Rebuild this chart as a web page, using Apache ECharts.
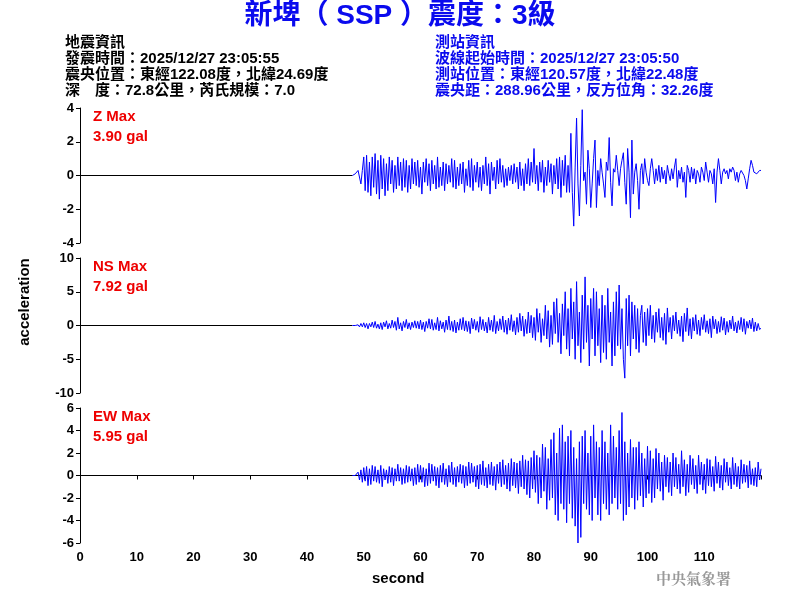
<!DOCTYPE html>
<html><head><meta charset="utf-8">
<script src="https://cdn.jsdelivr.net/npm/echarts@6/dist/echarts.min.js"></script>
<style>html,body{margin:0;padding:0;background:#fff}#c{width:800px;height:600px}</style>
</head><body><div id="c"></div>
<script>
const startTime = 48, step = 0.25;
const zValues = [
0,0,0.1,0.2, 0.3,0.2,-0.5,0.3, 1.1,-0.9,1.2,-1.0, 0.8,-1.2,1.1,-0.7, 1.3,-1.1,0.9,-1.4, 1.2,-0.8,1.0,-1.2,
0.7,-0.9,1.1,-0.5, 0.9,-1.0,0.6,-0.8, 1.1,-0.6,0.8,-0.9, 1.0,-0.7,0.9,-1.0, 0.6,-0.8,1.0,-0.5, 0.8,-0.6,0.9,-0.7,
0.5,-1.1,0.8,-0.4, 1.0,-0.6,0.7,-0.9, 0.9,-0.5,0.6,-0.8, 1.1,-0.7,0.5,-0.6, 0.8,-0.9,0.7,-0.5, 0.6,-0.4,1.0,-0.7,
0.9,-0.8,0.5,-0.6, 0.7,-0.5,0.8,-1.0, 0.4,-0.6,0.9,-0.7, 1.0,-0.9,0.6,-0.4, 0.8,-0.7,0.5,-0.9, 0.6,-0.5,1.1,-0.6,
0.7,-1.1,0.8,-0.3, 0.5,-0.8,0.9,-0.5, 1.0,-0.4,0.6,-0.7, 0.4,-0.6,0.5,-0.3, 0.6,-0.5,0.7,-0.4, 0.5,-0.8,0.8,-0.6,
0.4,-0.9,0.7,-0.5, 1.0,-0.6,0.8,-0.4,
1.6,-0.5,0.6,-0.9, 0.8,-0.4,0.9,-1.0, 0.5,-0.6,0.9,-0.4, 0.7,-1.1,0.6,-0.5, 1.0,-0.8,1.1,-1.3, 0.9,-0.6,1.2,-1.0,
0.6,-1.0,2.5,-1.0, -3.0,0.5,3.4,-0.5, -2.4,0.6,3.9,-0.3, 0.2,-1.7,1.5,0.4, -1.9,-0.5,1.0,2.1, -1.9,0.3,-0.6,1.0,
0.2,-0.5,-1.3,0.8, 0.3,2.25,-0.4,-1.8, 0.4,0.2,1.2,0.3, -0.6,0.4,0.9,1.35, -0.4,-1.7,1.6,0.2, -2.5,2.1,-1.1,0.2,
0.7,-0.3,-2.0,0.3, 0.7,-0.5,1.0,0.2, -0.3,-0.6,0.4,1.0, 0.3,-0.5,0.4,-0.3, 0.6,-0.4,0.5,-0.2, 0.3,-0.5,0.6,0.1,
-0.3,0.4,-0.2,0.5, 1.0,-0.7,0.3,-0.2, 0.5,-0.4,0.2,-1.3, 0.6,0.3,-0.4,0.5, -0.2,0.4,-0.5,0.3, 0.1,-0.4,0.5,0.2,
-0.3,0.8,0.2,-0.4, 0.3,0.1,-0.5,0.4, -1.6,0.2,1.0,0.3, -0.5,0.2,0.4,0.1, 0.3,-0.2,0.4,0.2, 0.5,0.3,-0.3,0.2,
-0.4,0.1,0.3,0.2, 0.0,-0.3,-0.8,-0.2, 0.4,0.9,0.6,0.2, 0.3,0.1,0.2,0.3, 0.3];
const nsValues = [
0,0,0,0, 0.1,-0.2,0.3,-0.2, 0.4,-0.3,0.3,-0.5, 0.3,-0.2,0.5,-0.3, 0.6,-0.4,0.2,-0.5, 0.4,-0.6,0.5,-0.2,
0.7,-0.5,0.3,-0.4, 0.8,-0.3,0.6,-0.7, 1.2,-0.5,0.4,-0.8, 0.6,-0.3,0.9,-0.5, 0.4,-0.6,0.5,-0.3, 0.7,-0.4,0.6,-0.5,
0.8,-0.6,0.5,-0.9, 0.6,-0.4,1.0,-0.5, 0.9,-0.7,0.4,-0.6, 1.2,-0.8,0.7,-0.5, 0.5,-1.0,0.8,-0.6, 1.4,-0.7,0.6,-0.9,
0.8,-1.1,0.5,-0.7, 1.0,-0.6,1.2,-0.8, 0.7,-0.9,0.6,-1.2, 1.1,-0.5,0.9,-0.7, 0.6,-1.0,1.3,-0.6, 0.9,-0.8,0.5,-1.1,
1.2,-0.7,0.8,-0.9, 1.5,-1.2,0.6,-0.8, 1.0,-0.6,1.4,-1.0, 0.8,-1.3,1.1,-0.7, 1.6,-0.9,0.7,-1.4, 1.2,-1.0,1.8,-0.8,
1.4,-1.6,0.9,-1.2, 2.0,-1.1,1.5,-1.8, 1.2,-2.2,2.5,-1.0, 1.8,-2.5,1.0,-1.5, 3.0,-2.0,2.2,-3.2, 1.5,-2.8,3.5,-1.2,
4.0,-2.5,1.8,-4.2, 3.2,-1.5,5.0,-3.5, 2.5,-4.5,5.5,-2.0, 3.5,-5.0,6.5,-3.0, 2.0,-5.5,4.5,-3.5, 7.2,-2.5,3.0,-6.0,
4.0,-2.0,5.5,-4.5, 5.0,-3.0,2.5,-5.5, 4.5,-4.0,3.0,-5.0, 5.5,-2.5,2.0,-6.0, 3.5,-4.5,5.0,-3.0, 6.0,-3.5,2.5,-5.0,
-7.8,4.0,-3.0,4.5, -4.5,3.5,-2.0,3.0, -3.5,2.5,-4.0,1.5, 3.0,-2.5,2.0,-3.0, 2.5,-1.5,3.0,-2.0, 1.5,-2.5,2.0,-1.0,
2.5,-1.8,1.2,-2.2, 1.8,-2.8,2.6,-1.0, 1.2,-2.0,1.5,-0.8, 2.0,-1.2,0.8,-1.6, 1.4,-2.4,1.8,-0.9, 2.6,-1.5,1.0,-2.0,
1.2,-0.8,1.6,-1.3, 0.8,-1.5,1.2,-0.6, 1.6,-1.0,0.7,-1.2, 1.0,-1.8,1.4,-0.5, 0.9,-1.2,0.6,-1.0, 1.3,-0.7,1.1,-1.4,
0.6,-1.0,0.8,-0.5, 1.4,-0.8,0.5,-1.1, 0.7,-0.6,1.2,-0.9, 1.0,-1.3,0.6,-0.4, 0.8,-0.5,1.1,-0.9, 0.5,-0.8,0.3,-0.6, -0.4];
const ewValues = [
0,0,0,0.1, 0.3,-0.4,0.5,-0.6, 0.7,-0.5,0.8,-0.9, 0.6,-0.8,0.9,-0.5, 0.8,-0.6,0.5,-0.7, 0.9,-1.0,0.6,-0.4,
0.5,-0.7,0.8,-0.6, 0.7,-0.9,0.6,-0.5, 1.0,-0.5,0.7,-0.8, 0.6,-0.7,0.9,-0.6, 0.8,-0.5,0.6,-0.9, 0.7,-0.8,1.0,-0.6,
0.9,-0.6,0.7,-1.0, 0.6,-0.9,1.1,-0.7, 1.0,-0.5,0.8,-0.9, 0.7,-1.1,0.9,-0.6, 1.1,-0.8,0.6,-1.0, 0.9,-0.6,1.2,-0.8,
0.7,-1.0,0.8,-0.6, 1.0,-0.7,0.9,-1.1, 0.8,-0.9,1.2,-0.7, 1.1,-0.6,0.8,-1.0, 0.9,-1.2,1.0,-0.8, 1.3,-0.9,0.7,-1.1,
1.0,-0.8,1.2,-0.9, 0.8,-1.3,1.0,-0.7, 1.2,-1.0,1.4,-0.8, 0.9,-1.2,1.1,-1.4, 1.5,-0.9,1.2,-1.1, 1.1,-1.6,1.3,-1.0,
1.8,-1.2,1.4,-1.7, 1.3,-2.0,1.6,-1.2, 2.2,-1.5,1.8,-2.5, 1.6,-2.0,2.8,-1.4, 2.5,-3.0,1.5,-2.2, 3.2,-2.0,3.8,-3.5,
2.0,-4.0,4.2,-2.5, 4.5,-3.0,3.0,-4.2, 3.5,-2.5,4.0,-3.8, 2.5,-4.5,1.5,-6.0, 3.0,-5.5,3.5,-2.5, 4.0,-3.0,2.0,-3.5,
3.5,-4.0,4.5,-2.0, 3.0,-3.5,2.5,-4.0, 4.0,-2.5,3.0,-3.0, 2.0,-3.5,4.5,-2.5, 3.5,-2.0,2.5,-3.0, 4.0,-2.5,5.6,-4.0,
3.0,-3.5,2.0,-2.8, 3.2,-2.0,2.5,-3.0, 2.5,-2.2,3.0,-1.8, 2.0,-2.8,1.5,-2.0, 2.6,-1.6,2.2,-2.4, 1.5,-2.0,2.4,-1.2,
2.0,-1.4,1.2,-2.2, 1.8,-1.0,1.6,-1.5, 1.2,-1.8,2.0,-1.0, 1.6,-1.2,1.0,-1.6, 2.2,-1.0,1.4,-1.8, 1.0,-1.5,1.8,-0.8,
1.5,-1.2,0.9,-1.6, 1.8,-0.8,1.2,-1.3, 1.0,-1.6,1.5,-0.9, 1.4,-1.0,0.8,-1.4, 1.7,-0.7,1.2,-1.1, 0.9,-1.3,1.5,-0.6,
1.2,-0.9,0.7,-1.2, 1.6,-0.8,1.1,-1.0, 0.8,-1.2,1.4,-0.7, 1.0,-0.6,0.9,-1.1, 1.3,-0.8,0.6,-0.9, 0.7,-1.0,1.2,-0.4, 0.6];
const yRanges = [[-4,4,2],[-10,10,5],[-6,6,2]];
const maxLabels = ['Z Max','NS Max','EW Max'];
const maxValues = ['3.90 gal','7.92 gal','5.95 gal'];
const leftInfo = ['地震資訊','發震時間：2025/12/27 23:05:55','震央位置：東經122.08度，北緯24.69度','深　度：72.8公里，芮氏規模：7.0'];
const rightInfo = ['測站資訊','波線起始時間：2025/12/27 23:05:50','測站位置：東經120.57度，北緯22.48度','震央距：288.96公里，反方位角：32.26度'];

const traces = [zValues, nsValues, ewValues];
const tops = [108, 258, 408];
const font = 'Arial, "Liberation Sans", sans-serif';
const grids = tops.map(t => ({left:80, right:39, top:t, height:135}));
const xAxes = tops.map((t,i) => ({
  gridIndex:i, type:'value', min:0, max:120, interval:10,
  show: i===2,
  axisLine:{show:true, lineStyle:{color:'#000'}}, axisTick:{length:4, lineStyle:{color:'#000'}},
  splitLine:{show:false},
  axisLabel:{color:'#000', fontSize:13, fontWeight:'bold', fontFamily:font, formatter:v => v===120?'':v}
}));
const yAxes = yRanges.map((r,i) => ({
  gridIndex:i, type:'value', min:r[0], max:r[1], interval:r[2],
  axisLine:{show:true, lineStyle:{color:'#000'}}, axisTick:{show:true, length:4, lineStyle:{color:'#000'}},
  splitLine:{show:false},
  axisLabel:{color:'#000', fontSize:13, fontWeight:'bold', fontFamily:font, margin:6}
}));
const series = [];
traces.forEach((vals,i) => {
  series.push({type:'line', xAxisIndex:i, yAxisIndex:i, symbol:'none', silent:true,
    lineStyle:{color:'#000', width:1}, data:[[0,0],[startTime,0]]});
  series.push({type:'line', xAxisIndex:i, yAxisIndex:i, symbol:'none', silent:true,
    lineStyle:{color:'#0000ff', width:1}, data: vals.map((v,k) => [startTime + k*step, v])});
});
const cjk = '"Noto Sans CJK TC", sans-serif';
const graphic = [
  {type:'text', left:'center', top:2, style:{text:'新埤（ SSP ）震度：3級', fill:'#0a0aee', font:'bold 28px Arial, '+cjk}}
];
leftInfo.forEach((t,i) => graphic.push({type:'text', left:65, top:35+i*16, style:{text:t, fill:'#000', font:'bold 15px Arial, '+cjk}}));
rightInfo.forEach((t,i) => graphic.push({type:'text', left:435, top:35+i*16, style:{text:t, fill:'#0a0aee', font:'bold 15px Arial, '+cjk}}));
tops.forEach((t,i) => {
  graphic.push({type:'text', left:93, top:t+1, style:{text:maxLabels[i], fill:'#ee0000', font:'bold 15px '+font}});
  graphic.push({type:'text', left:93, top:t+21, style:{text:maxValues[i], fill:'#ee0000', font:'bold 15px '+font}});
});
graphic.push({type:'text', left:372, top:571, style:{text:'second', fill:'#000', font:'bold 15px '+font}});
graphic.push({type:'text', x:25, y:302, rotation:Math.PI/2, style:{text:'acceleration', fill:'#000', font:'bold 15px '+font, align:'center', verticalAlign:'middle'}});
graphic.push({type:'text', left:656, top:571, style:{text:'中央氣象署', fill:'#999', font:'bold 15px "Noto Serif CJK TC", "Noto Sans CJK TC", serif'}});

const chart = echarts.init(document.getElementById('c'));
chart.setOption({animation:false, backgroundColor:'#fff', grid:grids, xAxis:xAxes, yAxis:yAxes, series, graphic});
</script></body></html>
